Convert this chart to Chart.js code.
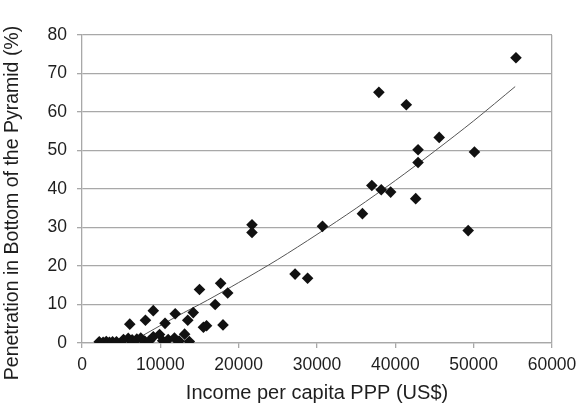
<!DOCTYPE html>
<html>
<head>
<meta charset="utf-8">
<script src="https://cdn.jsdelivr.net/npm/chart.js@4.4.1/dist/chart.umd.min.js"></script>
<style>
  html, body { margin: 0; padding: 0; background: #fff; }
  #wrap { width: 586px; height: 412px; }
</style>
</head>
<body>
<div id="wrap"><canvas id="bopChart" width="586" height="412"></canvas></div>
<script>
// Income per capita PPP (US$) and BOP penetration (%) per country
const income = [
    2200, 2700, 3100, 3500, 3900, 4400, 5300, 5900, 6400, 7000,
    7500, 8000, 8600, 9100, 9900, 10300, 11000, 11800, 12400, 13100,
    13700, 6100, 8100, 9100, 10600, 11900, 13500, 14200, 15000, 15500,
    15900, 17000, 17700, 18000, 18600, 21700, 21700, 27200, 28800, 30700,
    35800, 37000, 38200, 39400, 42600, 42900, 42900, 37900, 41400, 45600,
    49300, 50100, 55400
];
const penetration = [
    0.3, 0.2, 0.4, 0.2, 0.3, 0.3, 0.9, 1.2, 0.8, 1.0,
    1.3, 0.5, 0.6, 1.6, 2.2, 0.6, 0.9, 1.3, 0.5, 2.3,
    0.4, 4.9, 5.9, 8.4, 5.1, 7.6, 5.9, 7.9, 13.9, 4.1,
    4.5, 10.0, 15.5, 4.7, 13.0, 30.7, 28.7, 17.9, 16.8, 30.3,
    33.6, 40.9, 39.8, 39.2, 37.5, 50.2, 46.9, 65.1, 61.9, 53.4,
    29.2, 49.6, 74.1
];

// trend line, read at a few points along the curve
const trendX = [7800, 12000, 16000, 20000, 25000, 30000, 35000, 40000, 45000, 50000, 55300];
const trendY = [2.0, 6.8, 11.1, 15.7, 21.7, 28.2, 35.0, 42.2, 49.8, 57.7, 66.6];

const xTicks = [0, 10000, 20000, 30000, 40000, 50000, 60000];

const gridGray = "#a8a8a8";
const textColor = "#1e1e1e";

// y axis title drawn by hand so it can sit off-centre like the original
const yTitlePlugin = {
    id: "yTitle",
    afterDraw(chart) {
        const c = chart.ctx;
        c.save();
        c.translate(13, 203);
        c.rotate(-Math.PI / 2);
        c.font = "19.5px 'Liberation Sans', Arial, sans-serif";
        c.fillStyle = textColor;
        c.textAlign = "center";
        c.textBaseline = "middle";
        c.fillText("Penetration in Bottom of the Pyramid (%)", 0, 0);
        c.restore();
    }
};

Chart.defaults.font.family = "'Liberation Sans', Arial, sans-serif";
Chart.defaults.font.size = 17.5;
Chart.defaults.color = textColor;

const ctx = document.getElementById("bopChart").getContext("2d");

new Chart(ctx, {
    type: "scatter",
    data: {
        datasets: [
            {
                label: "Countries",
                data: income.map((x, i) => ({x: x, y: penetration[i]})),
                pointStyle: "rectRot",
                pointRadius: 5.8,
                pointHoverRadius: 5.8,
                backgroundColor: "#111",
                borderColor: "#111",
                borderWidth: 0,
                order: 1
            },
            {
                label: "Trend",
                type: "line",
                data: trendX.map((x, i) => ({x: x, y: trendY[i]})),
                borderColor: "#555",
                borderWidth: 1,
                pointRadius: 0,
                tension: 0.3,
                fill: false,
                order: 2
            }
        ]
    },
    plugins: [yTitlePlugin],
    options: {
        responsive: false,
        animation: false,
        layout: {padding: {top: 35, right: 34, left: 0, bottom: 0}},
        plugins: {
            legend: {display: false},
            tooltip: {enabled: false}
        },
        scales: {
            x: {
                type: "linear",
                min: 0,
                max: 60000,
                afterBuildTicks: s => { s.ticks = xTicks.map(v => ({value: v})); },
                afterFit: s => { s.height = 69; },
                ticks: {
                    padding: 7, maxRotation: 0, autoSkip: false, color: textColor,
                    callback: v => String(v)
                },
                grid: {
                    color: c => (c.tick && c.tick.value === 60000) ? gridGray : "rgba(0,0,0,0)",
                    tickColor: gridGray,
                    tickLength: 5,
                    lineWidth: 1.3
                },
                border: {color: gridGray, width: 1.3},
                title: {
                    display: true,
                    text: "Income per capita PPP (US$)",
                    color: textColor,
                    font: {size: 20},
                    padding: {top: 0, bottom: 7}
                }
            },
            y: {
                min: 0,
                max: 80,
                afterFit: s => { s.width = 82; },
                ticks: {stepSize: 10, padding: 10, color: textColor},
                grid: {color: gridGray, tickColor: gridGray, tickLength: 5, lineWidth: 1.3},
                border: {color: gridGray, width: 1.3},
                title: {display: false}
            }
        }
    }
});
</script>
</body>
</html>
